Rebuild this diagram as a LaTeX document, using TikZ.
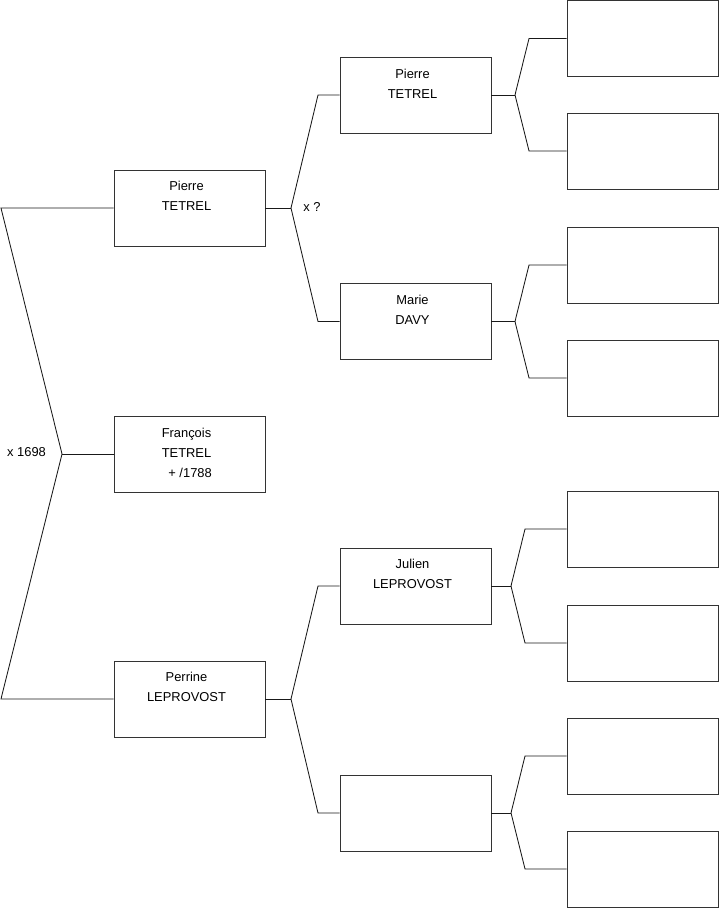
\documentclass[tikz,border=0pt]{standalone}
\usepackage{fontspec}
\setmainfont{Liberation Sans}
\begin{document}
\begin{tikzpicture}[x=1pt,y=-1pt,
  box/.style={draw=black!80, line width=0.9pt, minimum width=151pt, minimum height=76pt, inner sep=0pt},
  lbl/.style={font=\fontsize{12.9}{15}\selectfont, anchor=base, inner sep=0pt},
  ln/.style={draw=black!90, line width=0.85pt}]
\useasboundingbox (0,0) rectangle (719,908);
% generation 1
\node[box] (a) at (189.5,208) {};
\node[box] (b) at (189.5,454) {};
\node[box] (c) at (189.5,699) {};
% generation 2
\node[box] (d) at (415.5,95) {};
\node[box] (e) at (415.5,321.5) {};
\node[box] (f) at (415.5,586) {};
\node[box] (g) at (415.5,813) {};
% generation 3
\node[box] (h1) at (642.5,38.5) {};
\node[box] (h2) at (642.5,151) {};
\node[box] (h3) at (642.5,265) {};
\node[box] (h4) at (642.5,378) {};
\node[box] (h5) at (642.5,529) {};
\node[box] (h6) at (642.5,643) {};
\node[box] (h7) at (642.5,756) {};
\node[box] (h8) at (642.5,869) {};
% texts
\node[lbl] (ta1) at (186.5,190.5) {Pierre};
\node[lbl] (ta2) at (186.5,210.5) {TETREL};
\node[lbl] (tb1) at (186.5,437.5) {François};
\node[lbl] (tb2) at (186.5,457.5) {TETREL};
\node[lbl] (tb3) at (186.5,477.5) {\ \ + /1788};
\node[lbl] (tc1) at (186.5,681.5) {Perrine};
\node[lbl] (tc2) at (186.5,701.5) {LEPROVOST};
\node[lbl] (td1) at (412.5,78) {Pierre};
\node[lbl] (td2) at (412.5,98) {TETREL};
\node[lbl] (te1) at (412.5,304.5) {Marie};
\node[lbl] (te2) at (412.5,324.5) {DAVY};
\node[lbl] (tf1) at (412.5,568.5) {Julien};
\node[lbl] (tf2) at (412.5,588.5) {LEPROVOST};
\node[lbl] (m1) at (26.5,456.5) {x 1698};
\node[lbl] (m2) at (312,211.5) {x ?};
% left bracket
\coordinate (L1) at (1,208);
\coordinate (L2) at (62,454);
\coordinate (L3) at (1,699);
\draw[ln] (a.west) -- (L1) -- (L2) -- (L3) -- (c.west);
\draw[ln] (L2) -- (b.west);
% brackets gen1 -> gen2
\coordinate (Va) at (291,208);
\draw[ln] (a.east) -- (Va);
\draw[ln] (Va) -- (318,95) -- (d.west);
\draw[ln] (Va) -- (318,321.5) -- (e.west);
\coordinate (Vc) at (291,699);
\draw[ln] (c.east) -- (Vc);
\draw[ln] (Vc) -- (318,586) -- (f.west);
\draw[ln] (Vc) -- (318,813) -- (g.west);
% brackets gen2 -> gen3
\coordinate (Vd) at (515,95);
\draw[ln] (d.east) -- (Vd);
\draw[ln] (Vd) -- (529,38.5) -- (h1.west);
\draw[ln] (Vd) -- (529,151) -- (h2.west);
\coordinate (Ve) at (515,321.5);
\draw[ln] (e.east) -- (Ve);
\draw[ln] (Ve) -- (529,265) -- (h3.west);
\draw[ln] (Ve) -- (529,378) -- (h4.west);
\coordinate (Vf) at (511,586);
\draw[ln] (f.east) -- (Vf);
\draw[ln] (Vf) -- (525,529) -- (h5.west);
\draw[ln] (Vf) -- (525,643) -- (h6.west);
\coordinate (Vg) at (511,813);
\draw[ln] (g.east) -- (Vg);
\draw[ln] (Vg) -- (525,756) -- (h7.west);
\draw[ln] (Vg) -- (525,869) -- (h8.west);
\end{tikzpicture}
\end{document}
